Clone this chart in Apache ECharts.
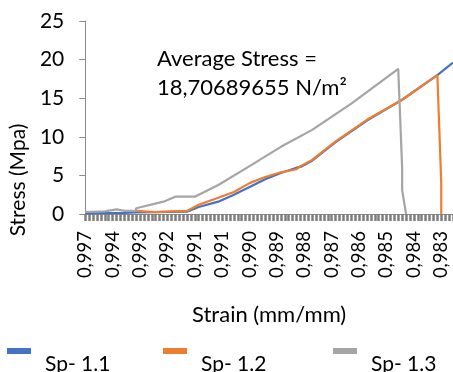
<!DOCTYPE html>
<html>
<head>
<meta charset="utf-8">
<script src="https://cdn.jsdelivr.net/npm/echarts@6/dist/echarts.min.js"></script>
<style>
  html, body { margin: 0; padding: 0; background: #fff; }
  #main { width: 453px; height: 372px; }
</style>
</head>
<body>
<div id="main"></div>
<script>
// strain tick labels (excel category axis, one label every 7 samples)
var strainTicks = ['0,997', '0,994', '0,993', '0,992', '0,991', '0,991', '0,990',
  '0,989', '0,988', '0,987', '0,986', '0,985', '0,984', '0,983'];
var stepsPerTick = 7;
var sampleCount = 95;

var seriesNames = ['Sp- 1.1', 'Sp- 1.2', 'Sp- 1.3'];

// [sample index, stress MPa]
var sp11 = [[0, 0.1], [10, 0.15], [13.3, 0.2], [26.4, 0.3], [29.4, 0.9], [33.5, 1.6],
  [37.7, 2.5], [42, 3.5], [46, 4.5], [50.3, 5.3], [53.6, 6.0], [55.3, 6.1], [57.9, 6.9],
  [63.6, 9.3], [72.2, 12.1], [80.5, 14.8], [89.8, 18.0], [94, 19.6]];
var sp12 = [[13.3, 0.4], [17.6, 0.25], [22.1, 0.35], [26.4, 0.4], [29.4, 1.2], [33.5, 2.1],
  [37.7, 2.85], [42, 4.0], [46, 4.8], [50.3, 5.4], [53.6, 5.8], [55.3, 6.2], [57.9, 7.0],
  [63.6, 9.4], [72.2, 12.2], [80.5, 14.8], [89.8, 18.0], [90.6, 4], [91.1, 0]];
var sp13 = [[0, 0.26], [5, 0.35], [8.3, 0.6], [10.1, 0.4], [12.6, 0.45], [13.3, 0.74],
  [19.6, 1.6], [23.4, 2.24], [28.4, 2.24], [33.5, 3.76], [42, 6.2], [50.3, 8.7],
  [57.9, 10.9], [67.9, 14.3], [80, 18.8], [80.5, 6], [81, 3.1], [81.5, 0]];

var categories = [];
for (var i = 0; i < sampleCount; i++) {
  categories.push(i % stepsPerTick === 0 ? (strainTicks[i / stepsPerTick] || '') : '');
}

var font = 'Lato';
var chart = echarts.init(document.getElementById('main'));

// excel spreads the legend entries unevenly, so one legend per entry
var legendLeft = [7, 163, 333];
var legends = seriesNames.map(function (name, k) {
  return {
    left: legendLeft[k],
    top: 348,
    padding: 0,
    itemWidth: 24,
    itemHeight: 6,
    icon: 'rect',
    formatter: '{t|{name}}',
    textStyle: {
      fontFamily: font, fontSize: 21, color: '#000',
      rich: { t: { fontFamily: font, fontSize: 21, color: '#000', padding: [26, 0, 0, 9] } }
    },
    data: [name]
  };
});

var option = {
  animation: false,
  backgroundColor: '#fff',
  color: ['#4472C4', '#ED7D31', '#A5A5A5'],
  textStyle: { fontFamily: font },
  grid: { left: 80, right: 0, top: 21, bottom: 158 },
  legend: legends,
  graphic: [{
    type: 'text',
    left: 157,
    top: 44,
    style: {
      text: 'Average Stress =\n18,70689655 N/m²',
      font: '22px Lato',
      lineHeight: 29,
      fill: '#000'
    }
  }],
  xAxis: {
    type: 'category',
    boundaryGap: false,
    data: categories,
    name: 'Strain (mm/mm)',
    nameLocation: 'middle',
    nameGap: 90,
    nameTextStyle: { fontFamily: font, fontSize: 22, color: '#000' },
    axisLine: { lineStyle: { color: '#8c8c8c', width: 1 } },
    axisTick: { interval: 0, length: 7, lineStyle: { color: '#7f7f7f', width: 2.5 } },
    axisLabel: { interval: stepsPerTick - 1, rotate: 90, margin: 17, fontSize: 18.5, color: '#000', fontFamily: font },
    splitLine: { show: false }
  },
  yAxis: {
    type: 'value',
    min: 0,
    max: 25,
    interval: 5,
    name: 'Stress (Mpa)',
    nameLocation: 'middle',
    nameGap: 48,
    nameTextStyle: { fontFamily: font, fontSize: 21, color: '#000', padding: [0, 125, 0, 0] },
    axisLine: { show: true, lineStyle: { color: '#8c8c8c', width: 1 } },
    axisTick: { show: true, length: 6, lineStyle: { color: '#8c8c8c' } },
    axisLabel: { margin: 21, fontSize: 21, color: '#000', fontFamily: font },
    splitLine: { show: false }
  },
  series: [
    { name: seriesNames[0], type: 'line', data: sp11, showSymbol: false, lineStyle: { width: 2.2 } },
    { name: seriesNames[1], type: 'line', data: sp12, showSymbol: false, lineStyle: { width: 2.2 } },
    { name: seriesNames[2], type: 'line', data: sp13, showSymbol: false, lineStyle: { width: 2.2 } }
  ]
};

chart.setOption(option);
</script>
</body>
</html>
